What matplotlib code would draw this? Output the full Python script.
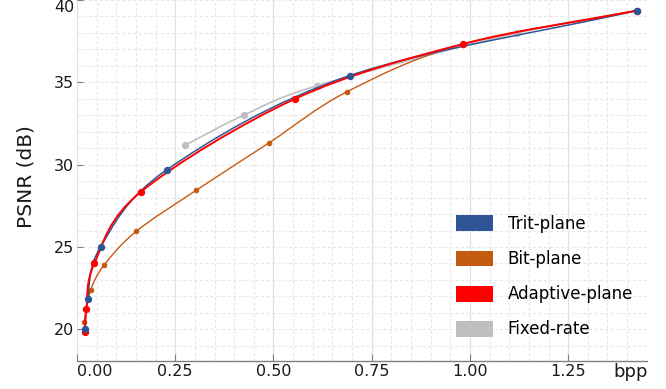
import numpy as np
import matplotlib
matplotlib.use('Agg')
import matplotlib.pyplot as plt
from matplotlib.path import Path
from matplotlib.patches import PathPatch, Patch
from matplotlib.ticker import MultipleLocator

plt.rcParams['font.family'] = ['DejaVu Sans']

# values (bpp, PSNR dB)
trit_bpp = [0.020, 0.027, 0.060, 0.229, 0.694, 1.426]
trit_psnr = [20.02, 21.84, 25.01, 29.70, 35.41, 39.36]

bit_bpp = [0.018, 0.035, 0.069, 0.151, 0.303, 0.489, 0.688, 0.983, 1.426]
bit_psnr = [20.43, 22.39, 23.90, 25.96, 28.44, 31.33, 34.44, 37.33, 39.36]

adapt_bpp = [0.020, 0.024, 0.044, 0.162, 0.555, 0.983, 1.426]
adapt_psnr = [19.86, 21.22, 24.00, 28.34, 34.00, 37.33, 39.36]

fixed_bpp = [0.274, 0.424, 0.612, 1.120, 1.426]
fixed_psnr = [31.17, 33.00, 34.80, 38.00, 39.36]

names = ['Trit-plane', 'Bit-plane', 'Adaptive-plane', 'Fixed-rate']
colors = ['#2F5597', '#C55A11', '#FF0000', '#BFBFBF']


def smooth_path(x, y):
    # catmull-rom through the points, drawn as cubic bezier segments
    p = np.column_stack([x, y])
    n = len(p)
    t = np.zeros_like(p)
    t[0] = p[1] - p[0]
    t[-1] = p[-1] - p[-2]
    for i in range(1, n - 1):
        t[i] = (p[i + 1] - p[i - 1]) / 2
    verts = [p[0]]
    codes = [Path.MOVETO]
    for i in range(n - 1):
        verts += [p[i] + t[i] / 3, p[i + 1] - t[i + 1] / 3, p[i + 1]]
        codes += [Path.CURVE4] * 3
    return Path(verts, codes)


def draw_line(x, y, c, lw, z):
    ax.add_patch(PathPatch(smooth_path(x, y), fill=False, edgecolor=c, lw=lw, zorder=z))


def draw_marks(x, y, c, ms, z):
    ax.plot(x, y, 'o', color=c, ms=ms, mec=c, ls='none', zorder=z)


fig = plt.figure(figsize=(6.66, 3.89), dpi=100)
ax = fig.add_axes([0.1156, 0.072, 0.8555, 0.928])

draw_line(fixed_bpp, fixed_psnr, colors[3], 1.2, 3)
draw_marks(fixed_bpp, fixed_psnr, colors[3], 4.2, 3.1)
draw_line(bit_bpp, bit_psnr, colors[1], 1.0, 4)
draw_marks(bit_bpp, bit_psnr, colors[1], 3.0, 4.1)
draw_line(trit_bpp, trit_psnr, colors[0], 1.1, 5)
draw_line(adapt_bpp, adapt_psnr, colors[2], 1.4, 6)
draw_marks(adapt_bpp, adapt_psnr, colors[2], 4.3, 7)
draw_marks(trit_bpp, trit_psnr, colors[0], 4.3, 8)

ax.set_xlim(0.004, 1.45)
ax.set_ylim(18.08, 40.0)

ax.xaxis.set_major_locator(MultipleLocator(0.25))
ax.xaxis.set_minor_locator(MultipleLocator(0.05))
ax.set_yticks([20, 25, 30, 35, 40])
ax.yaxis.set_minor_locator(MultipleLocator(1))
ax.set_xticks([0, 0.25, 0.5, 0.75, 1.0, 1.25],
              ['0.00', '0.25', '0.50', '0.75', '1.00', '1.25'])

ax.grid(True, which='major', axis='x', color='#e0e0e0', lw=0.9, ls='-', zorder=0)
ax.grid(True, which='minor', axis='x', color='#e8e8e8', lw=0.8, ls=(0, (3, 2)), zorder=0)
ax.grid(True, which='both', axis='y', color='#e8e8e8', lw=0.8, ls=(0, (3, 2)), zorder=0)

for s in ['left', 'top', 'right']:
    ax.spines[s].set_visible(False)
ax.spines['bottom'].set_color('#808080')
ax.spines['bottom'].set_linewidth(1.0)

ax.tick_params(axis='x', which='major', direction='in', length=5, color='#808080',
               labelsize=11.5, pad=2.5, labelcolor='#1a1a1a')
ax.tick_params(axis='y', which='major', direction='in', length=4, color='#808080',
               labelsize=11.5, pad=2, labelcolor='#1a1a1a')
ax.tick_params(which='minor', length=0)

ax.get_yticklabels()[-1].set_va('top')
ax.get_xticklabels()[0].set_ha('left')

ax.set_ylabel('PSNR (dB)', fontsize=14.5, color='#1a1a1a')
ax.yaxis.set_label_coords(-0.072, 0.51)

ax.annotate('bpp', xy=(1, 0), xycoords='axes fraction', xytext=(1.5, -16),
            textcoords='offset pixels', ha='right', va='baseline',
            fontsize=13, color='#1a1a1a', annotation_clip=False)

handles = [Patch(facecolor=c, edgecolor='none') for c in colors]
fig.legend(handles, names, loc='upper left', bbox_to_anchor=(456 / 666, 1 - 215 / 389),
           frameon=False, fontsize=12, handlelength=2.2, handleheight=1.08,
           handletextpad=0.9, labelspacing=1.03, borderpad=0, borderaxespad=0)

fig.savefig('out.png', dpi=100)
